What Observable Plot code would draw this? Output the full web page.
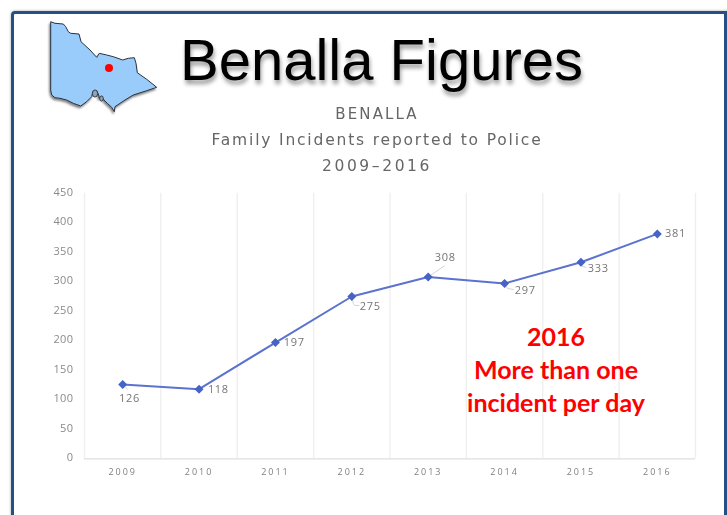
<!DOCTYPE html>
<html>
<head>
<meta charset="utf-8">
<script src="https://cdn.jsdelivr.net/npm/d3@7"></script>
<script src="https://cdn.jsdelivr.net/npm/@observablehq/plot@0.6"></script>
<style>
  html, body { margin: 0; padding: 0; background: #fff; overflow: hidden; }
  #page { position: relative; width: 727px; height: 515px; overflow: hidden; }
  #frame { position: absolute; left: 11px; top: 11px; width: 760px; height: 560px; box-sizing: border-box;
           border: 3.5px solid #264f84; border-radius: 4px; box-shadow: 0 0 3px rgba(0,0,0,.35); }
  #rightEdge { position: absolute; left: 724px; top: 11px; width: 3px; height: 504px; background: #264f84; }
  #map { position: absolute; left: 0; top: 0; }
  #head { position: absolute; left: 180px; top: 26px; font: 58px "Liberation Sans", sans-serif; color: #000;
          text-shadow: 1px 4px 4px rgba(0,0,0,.4); white-space: nowrap; }
  .sub { position: absolute; left: 0; width: 754px; text-align: center; color: #666; white-space: nowrap;
         font: 15.5px "DejaVu Sans", sans-serif; filter: blur(.3px); }
  #chart { position: absolute; left: 0; top: 180px; filter: blur(.3px); }
  #chart g[aria-label="x-axis tick label"] text { letter-spacing: 2px; }
  #chart g[aria-label="y-axis tick label"] text { letter-spacing: .4px; }
  #chart g[aria-label="text"] text { letter-spacing: .7px; }
  #note { position: absolute; left: 436px; width: 240px; top: 320px; text-align: center; color: #f00;
          font: bold 25px/33px Lato, sans-serif; }
</style>
</head>
<body>
<div id="page">
  <div id="frame"></div>
  <div id="rightEdge"></div>
  <svg id="map" width="200" height="130">
    <defs><filter id="ds" x="-20%" y="-20%" width="140%" height="140%"><feDropShadow dx="-1" dy="2" stdDeviation="1.1" flood-color="#000" flood-opacity=".5"/></filter></defs>
    <path filter="url(#ds)" fill="#9accfb" stroke="#2a3340" stroke-width="1" stroke-linejoin="round"
      d="M50.7 21.7L55 23.3 63.3 24 65.7 26.7 68.3 31.7 70.7 33.3 79 34 81 41.7 90 50 96.7 57.3 99.3 53.3 106.7 55 113.3 56.7 122.7 60 128.3 58.3 134.3 57.7 136 63.3 137.3 72.7 146.7 79.3 156.7 87.3 146.7 90.7 133.3 95 125 100 115 106.7 114.3 111.7 111.7 107.3 107.3 103.3 104 100 101.7 96.7 99.3 98.3 98.7 95 96.7 90.7 92.7 91.7 91.7 96.7 86.7 101.7 80.7 106 73.3 103.3 66.7 100 60 98.3 55 97.7 51.7 95 50.7 90Z"/>
    <ellipse cx="95" cy="93.5" rx="2.6" ry="3.6" fill="#8aa6c4" stroke="#333" stroke-width=".9"/>
    <ellipse cx="101.5" cy="98.5" rx="1.8" ry="2.6" fill="#8aa6c4" stroke="#333" stroke-width=".9"/>
    <circle cx="109" cy="68" r="4" fill="#f00"/>
  </svg>
  <div id="head">Benalla Figures</div>
  <div class="sub" style="top:105px;letter-spacing:2.1px;font-size:15px">BENALLA</div>
  <div class="sub" style="top:131px;letter-spacing:1.82px">Family Incidents reported to Police</div>
  <div class="sub" style="top:157px;letter-spacing:2.6px">2009–2016</div>
  <div id="chart"></div>
  <div id="note">2016<br>More than one<br>incident per day</div>
</div>
<script>
const years = [2009, 2010, 2011, 2012, 2013, 2014, 2015, 2016];
const incidents = [126, 118, 197, 275, 308, 297, 333, 381];
const yTicks = [0, 50, 100, 150, 200, 250, 300, 350, 400, 450];

// label placement relative to each point, in pixels
const labelDx = [6.7, 19.3, 18.9, 18.5, 17, 20.7, 17.3, 18.2];
const labelDy = [14, 0, 0, 10, -19.7, 6.7, 6.3, 0];
const leaderPaths = [
  [[0, 0], [5, 5]],
  [],
  [],
  [[0, 0], [1.5, 7], [3, 9], [7, 9]],
  [[0, 0], [16, -11]],
  [[0, 0], [3, 5], [9, 6]],
  [[0, 0], [1, 4], [5, 5]],
  []
];

const table = years.map((year, i) => ({ year, value: incidents[i], dx: labelDx[i], dy: labelDy[i] }));
const gridEdges = [...years.map(y => y - 0.5), 2016.5];

const width = 727, height = 315;
const marginLeft = 84, marginRight = 32, marginTop = 12.7, marginBottom = 36.7;
const pxPerYear = (width - marginLeft - marginRight) / 8;
const pxPerUnit = (height - marginTop - marginBottom) / 450;

const leaders = leaderPaths.flatMap((path, i) =>
  path.map(([dx, dy]) => ({ id: i, x: years[i] + dx / pxPerYear, y: incidents[i] - dy / pxPerUnit })));

const chart = Plot.plot({
  width, height, marginLeft, marginRight, marginTop, marginBottom,
  style: { background: "transparent", fontFamily: "'Open Sans', sans-serif", overflow: "visible" },
  x: { domain: [2008.5, 2016.5], label: null },
  y: { domain: [0, 450], label: null },
  marks: [
    Plot.ruleX(gridEdges, { stroke: "#efefef", strokeWidth: 1.4 }),
    Plot.ruleY([0], { stroke: "#dedede", strokeWidth: 1.2 }),
    Plot.axisY({ ticks: yTicks, tickSize: 0, tickPadding: 11, dy: -1, label: null, fontSize: 11, fill: "#8a8a8a" }),
    Plot.axisX({ ticks: years, tickSize: 0, tickPadding: 9.5, tickFormat: d3.format("d"), label: null, fontSize: 9, fill: "#808080" }),
    Plot.line(leaders, { x: "x", y: "y", z: "id", stroke: "#c8c8c8", strokeWidth: 0.8 }),
    Plot.line(table, { x: "year", y: "value", stroke: "#5b72cf", strokeWidth: 2 }),
    Plot.dot(table, { x: "year", y: "value", symbol: "diamond2", r: 3.1, fill: "#4763c6", stroke: "#4763c6" }),
    ...table.map(d => Plot.text([d], {
      x: "year", y: "value", text: "value", dx: d.dx, dy: d.dy,
      fontSize: 11, fill: "#757575"
    }))
  ]
});
document.getElementById("chart").appendChild(chart);
</script>
</body>
</html>
